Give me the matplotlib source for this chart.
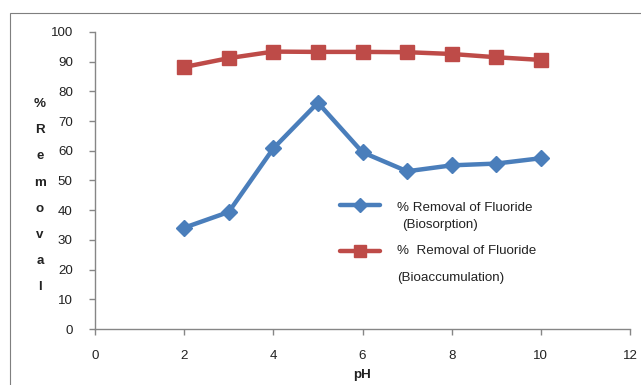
import matplotlib
matplotlib.use("Agg")
import matplotlib.pyplot as plt
from matplotlib.lines import Line2D
from matplotlib.patches import Rectangle

plt.rcParams['font.family'] = ['Liberation Sans', 'DejaVu Sans']

ph = [2, 3, 4, 5, 6, 7, 8, 9, 10]
biosorption = [34.1, 39.4, 60.8, 76.2, 59.5, 53.1, 55.1, 55.7, 57.5]
bioaccumulation = [88.2, 91.2, 93.4, 93.3, 93.3, 93.2, 92.6, 91.5, 90.6]

blue = '#4A7EBB'
red = '#BE4B48'
axis_gray = '#868686'
txt = '#222222'
fs = 9.6

fig = plt.figure(figsize=(6.41, 3.85), dpi=100)
# chart area border
fig.patches.append(Rectangle((10 / 641, -0.05), 1.2, (385 - 13) / 385 + 0.05,
                             transform=fig.transFigure, fill=False,
                             edgecolor='#7f7f7f', linewidth=0.8))

ax = fig.add_axes([95 / 641, 1 - 329 / 385, (630 - 95) / 641, (329 - 32) / 385])

ax.plot(ph, biosorption, color=blue, linewidth=3.2, marker='D',
        markersize=8, solid_capstyle='round', zorder=3)
ax.plot(ph, bioaccumulation, color=red, linewidth=3.2, marker='s',
        markersize=10, zorder=3)

ax.set_xlim(0, 12)
ax.set_ylim(0, 100)
ax.set_xticks(range(0, 13, 2))
ax.set_yticks(range(0, 101, 10))
for side in ['top', 'right']:
    ax.spines[side].set_visible(False)
for side in ['left', 'bottom']:
    ax.spines[side].set_color(axis_gray)
    ax.spines[side].set_linewidth(1.0)
ax.tick_params(colors=axis_gray, labelcolor=txt, labelsize=fs,
               length=4, width=1.0)
ax.tick_params(axis='x', pad=11)
ax.tick_params(axis='y', pad=12)
ax.patch.set_alpha(0)

ax.set_xlabel('pH', fontsize=fs, fontweight='bold', labelpad=5, color=txt)

# vertical stacked y label
letters = ['%', 'R', 'e', 'm', 'o', 'v', 'a', 'l']
for i, ch in enumerate(letters):
    fig.text(40 / 641, 1 - (104 + i * 26.2) / 385, ch, fontsize=fs,
             fontweight='bold', ha='center', va='center', color=txt)

# hand-placed legend
leg_x0, leg_x1 = 340 / 641, 380 / 641
for yy, col, mk, ms in [(205, blue, 'D', 7), (251, red, 's', 9)]:
    fig.add_artist(Line2D([leg_x0, leg_x1], [1 - yy / 385] * 2,
                          transform=fig.transFigure, color=col, linewidth=3.2,
                          solid_capstyle='round'))
    fig.add_artist(Line2D([(leg_x0 + leg_x1) / 2], [1 - yy / 385],
                          transform=fig.transFigure, color=col, marker=mk,
                          markersize=ms, linestyle='none'))
fig.text(397 / 641, 1 - 208 / 385, '% Removal of Fluoride', fontsize=fs,
         va='center', color=txt)
fig.text(402 / 641, 1 - 225 / 385, '(Biosorption)', fontsize=fs,
         va='center', color=txt)
fig.text(397 / 641, 1 - 251 / 385, '%  Removal of Fluoride', fontsize=fs,
         va='center', color=txt)
fig.text(397 / 641, 1 - 278 / 385, '(Bioaccumulation)', fontsize=fs,
         va='center', color=txt)

fig.savefig('out.png', dpi=100)
